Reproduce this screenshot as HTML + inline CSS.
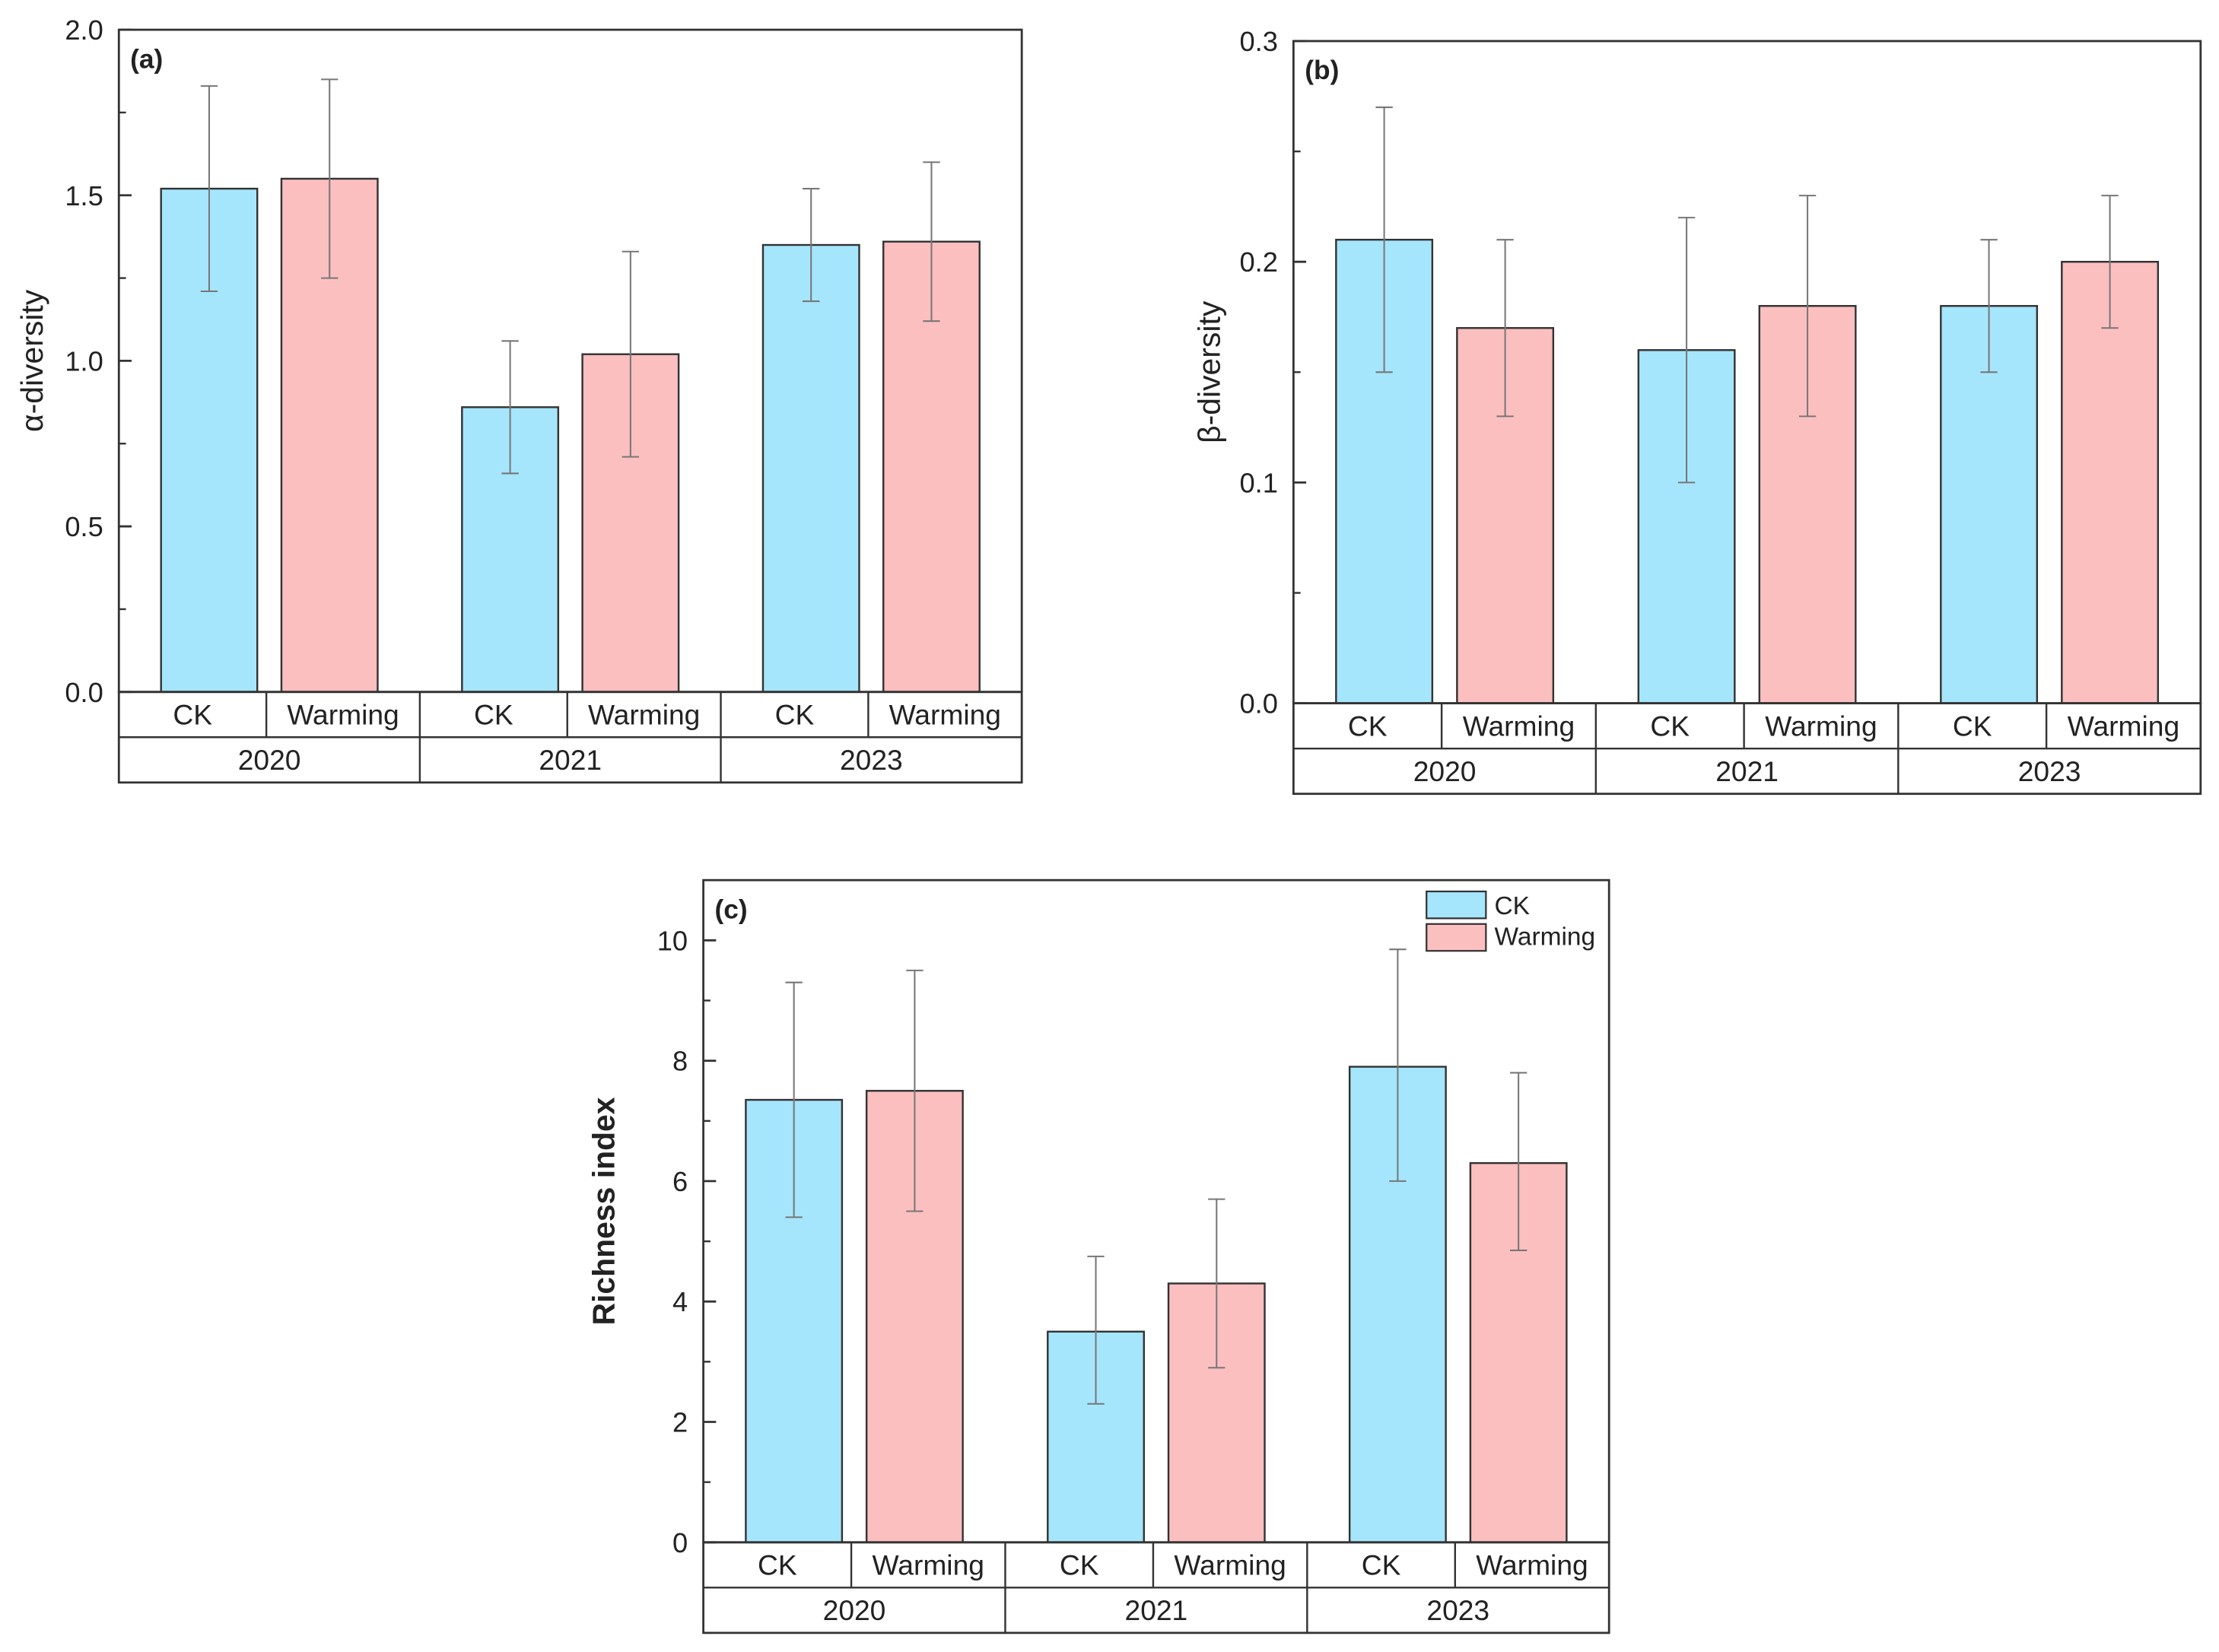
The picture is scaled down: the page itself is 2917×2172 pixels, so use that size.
<!DOCTYPE html>
<html><head><meta charset="utf-8"><style>
html,body{margin:0;padding:0;background:#fff}
svg{display:block}
text{font-family:"Liberation Sans",sans-serif;fill:#222}
</style></head><body>
<svg id="fig" width="2917" height="2172" viewBox="0 0 1568 1167.5" xmlns="http://www.w3.org/2000/svg"></svg>
<script>
const groups = ["2020","2021","2023"];
const treatments = ["CK","Warming"];
const aMeans = [1.52,1.55,0.86,1.02,1.35,1.36];
const aLow = [1.21,1.25,0.66,0.71,1.18,1.12];
const aHigh = [1.83,1.85,1.06,1.33,1.52,1.60];
const aTicks = ["0.0","0.5","1.0","1.5","2.0"];
const bMeans = [0.21,0.17,0.16,0.18,0.18,0.20];
const bLow = [0.15,0.13,0.10,0.13,0.15,0.17];
const bHigh = [0.27,0.21,0.22,0.23,0.21,0.23];
const bTicks = ["0.0","0.1","0.2","0.3"];
const cMeans = [7.35,7.5,3.5,4.3,7.9,6.3];
const cLow = [5.4,5.5,2.3,2.9,6.0,4.85];
const cHigh = [9.3,9.5,4.75,5.7,9.85,7.8];
const cTicks = ["0","2","4","6","8","10"];

const NS="http://www.w3.org/2000/svg";
const svg=document.getElementById('fig');
function mk(tag,attrs,parent,txt){const e=document.createElementNS(NS,tag);for(const k in attrs)e.setAttribute(k,attrs[k]);if(txt!==undefined)e.textContent=txt;(parent||svg).appendChild(e);return e;}
const colors=["#a6e6fc","#fcbfc0"];

function panel(id,x0,x1,yTop,yZero,ymax,ticks,means,lows,highs,label,ylabel,ylx,ylBold){
  const g=mk('g',{});
  
  
  const ys=v=>yZero-(v/ymax)*(yZero-yTop);
  const gw=(x1-x0)/3;
  means.forEach((m,i)=>{
    const gi=Math.floor(i/2),ti=i%2;
    const cx=x0+gw*gi+gw*(ti===0?0.3:0.7);
    const bw=68;
    const r=mk('rect',{x:cx-bw/2,y:ys(m),width:bw,height:yZero-ys(m),fill:colors[ti],stroke:"#333","stroke-width":1.3},g);
    
    
    const eg=mk('g',{stroke:"#777","stroke-width":1.1},g);
    
    
    mk('line',{x1:cx,x2:cx,y1:ys(lows[i]),y2:ys(highs[i])},eg);
    mk('line',{x1:cx-6,x2:cx+6,y1:ys(lows[i]),y2:ys(lows[i])},eg);
    mk('line',{x1:cx-6,x2:cx+6,y1:ys(highs[i]),y2:ys(highs[i])},eg);
  });
  const fr=mk('rect',{x:x0,y:yTop,width:x1-x0,height:yZero-yTop,fill:"none",stroke:"#333","stroke-width":1.5},g);
  
  
  ticks.forEach((t,i)=>{
    const v=parseFloat(t);const y=ys(v);
    mk('line',{x1:x0,x2:x0+9,y1:y,y2:y,stroke:"#333","stroke-width":1.5},g);
    if(i<ticks.length-1){const ym=ys(v+parseFloat(ticks[1])/2);mk('line',{x1:x0,x2:x0+5,y1:ym,y2:ym,stroke:"#333","stroke-width":1.3},g);}
    const tl=mk('text',{x:x0-11,y:y+7,"text-anchor":"end","font-size":19.5},g,t);
    
    
  });
  const tb=mk('g',{},g);
  
  
  const r1=yZero+32,r2=yZero+64;
  mk('rect',{x:x0,y:yZero,width:x1-x0,height:64,fill:"none",stroke:"#333","stroke-width":1.5},tb);
  mk('line',{x1:x0,x2:x1,y1:r1,y2:r1,stroke:"#333","stroke-width":1.3},tb);
  for(let gi=0;gi<3;gi++){
    const gx=x0+gw*gi;
    if(gi>0)mk('line',{x1:gx,x2:gx,y1:yZero,y2:r2,stroke:"#333","stroke-width":1.3},tb);
    const split=gx+gw*0.49;
    mk('line',{x1:split,x2:split,y1:yZero,y2:r1,stroke:"#333","stroke-width":1.3},tb);
    const c1=mk('text',{x:(gx+split)/2,y:yZero+23,"text-anchor":"middle","font-size":20},tb,treatments[0]);
    
    const c2=mk('text',{x:(split+gx+gw)/2,y:yZero+23,"text-anchor":"middle","font-size":20},tb,treatments[1]);
    
    const yr=mk('text',{x:gx+gw/2,y:r1+23,"text-anchor":"middle","font-size":20},tb,groups[gi]);
    
  }
  const pl=mk('text',{x:x0+8,y:yTop+27,"font-size":19,"font-weight":"bold"},g,label);
  
  const cy=(yTop+yZero)/2;
  const yl=mk('text',{x:ylx,y:cy,"text-anchor":"middle","font-size":ylBold?22:22,"font-weight":ylBold?"bold":"normal",transform:`rotate(-90 ${ylx} ${cy})`},g,ylabel);
  
}
panel('a',84,722,21,489,2.0,aTicks,aMeans,aLow,aHigh,'(a)','α-diversity',30,false);
panel('b',914,1555,29,497,0.3,bTicks,bMeans,bLow,bHigh,'(b)','β-diversity',862,false);
panel('c',497,1137,622,1090,11,cTicks,cMeans,cLow,cHigh,'(c)','Richness index',434,true);
const lg=mk('g',{});

const l1=mk('g',{},lg);
mk('rect',{x:1008,y:630,width:42,height:19,fill:colors[0],stroke:"#333","stroke-width":1.2},l1);
mk('text',{x:1056,y:646,"font-size":18},l1,'CK');
const l2=mk('g',{},lg);
mk('rect',{x:1008,y:653,width:42,height:19,fill:colors[1],stroke:"#333","stroke-width":1.2},l2);
mk('text',{x:1056,y:668,"font-size":18},l2,'Warming');
</script>
</body></html>
